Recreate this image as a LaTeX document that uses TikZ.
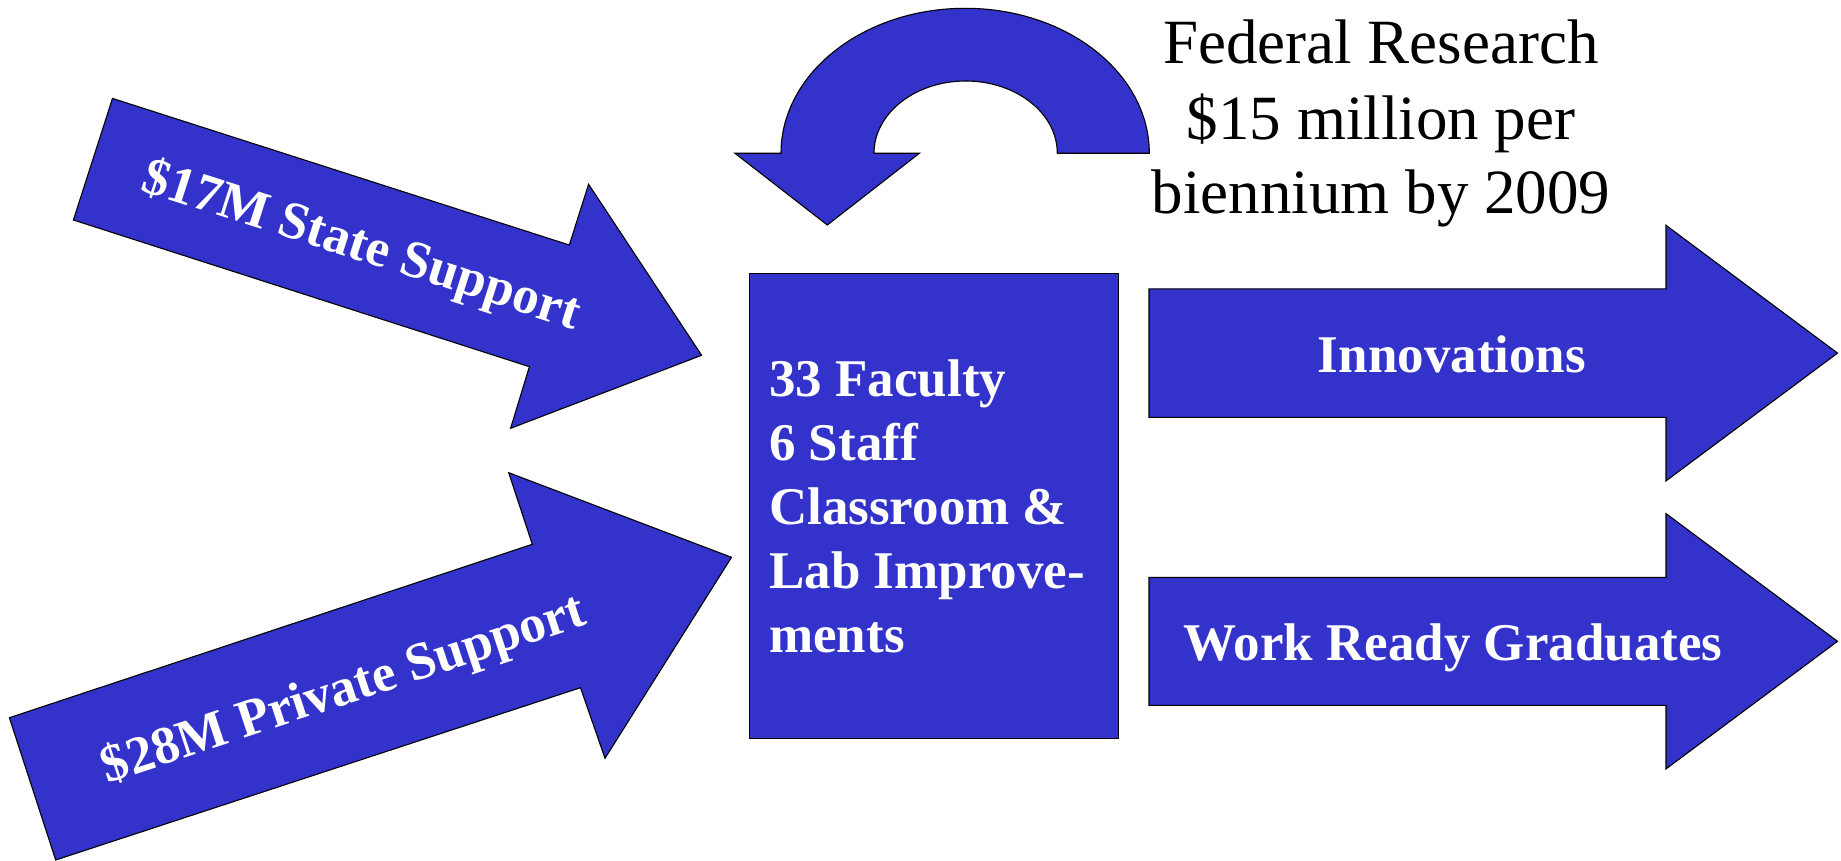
\documentclass[tikz,border=0pt]{standalone}
\usepackage{fontspec}
\setmainfont{Liberation Serif}
\definecolor{ablue}{RGB}{51,51,204}
\tikzset{
  ashape/.style={fill=ablue, draw=black, line width=1.1pt, line join=miter},
  wlabel/.style={text=white, font=\bfseries\fontsize{53}{64}\selectfont, inner sep=0pt},
  rlabel/.style={text=white, font=\bfseries\fontsize{53}{64}\selectfont, inner sep=0pt},
  blabel/.style={text=black, font=\fontsize{63}{75}\selectfont, inner sep=0pt}
}
\begin{document}
\begin{tikzpicture}[x=1pt,y=-1pt]
\useasboundingbox (0,0) rectangle (1841,861);

% State support arrow
\draw[ashape] (112.5,98.4) -- (569.3,245) -- (588.6,184.3) -- (701.6,355.3)
  -- (510.6,428.3) -- (529.4,366.7) -- (73.4,220) -- cycle;
\node[rlabel, rotate=-17.8] (state) at (361,247) {\$17M State Support};

% Private support arrow
\draw[ashape] (9.4,717.7) -- (532.3,544.3) -- (508.7,472.7) -- (731.5,557.3)
  -- (605,758.3) -- (580.5,687.7) -- (55.7,860) -- cycle;
\node[rlabel, rotate=18.3] (private) at (344,691) {\$28M Private Support};

% U-turn arrow
\draw[ashape] (1149.3,153.3) arc[start angle=0, end angle=-180, x radius=184.15, y radius=145]
  -- (735,153.3) -- (827.3,225) -- (919.3,153.3) -- (874,153.3)
  arc[start angle=180, end angle=360, x radius=91.65, y radius=72.3]
  -- cycle;

% Central box
\node[ashape, anchor=north west, minimum width=368.7pt, minimum height=464.4pt, inner sep=0pt] (box) at (749,273.3) {};
\node[wlabel, anchor=base west] (l1) at (769,396.7) {33 Faculty};
\node[wlabel, anchor=base west] (l2) at (769,460.7) {6 Staff};
\node[wlabel, anchor=base west] (l3) at (769,524.7) {Classroom \&};
\node[wlabel, anchor=base west] (l4) at (769,588.7) {Lab Improve-};
\node[wlabel, anchor=base west] (l5) at (769,652.7) {ments};

% Output arrows
\draw[ashape] (1149,288.9) -- (1666,288.9) -- (1666,225.3) -- (1837.5,353.1)
  -- (1666,480.9) -- (1666,417.3) -- (1149,417.3) -- cycle;
\node[wlabel, anchor=base] (innov) at (1452,372.5) {Innovations};

\draw[ashape] (1149,577.3) -- (1666,577.3) -- (1666,513.6) -- (1837.5,641.3)
  -- (1666,768.9) -- (1666,705.3) -- (1149,705.3) -- cycle;
\node[wlabel, anchor=base] (grads) at (1453,660.9) {Work Ready Graduates};

% Federal research text
\node[blabel, anchor=base] (f1) at (1381,63.3) {Federal Research};
\node[blabel, anchor=base] (f2) at (1381,139.3) {\$15 million per};
\node[blabel, anchor=base] (f3) at (1381,213.3) {biennium by 2009};
\end{tikzpicture}
\end{document}
